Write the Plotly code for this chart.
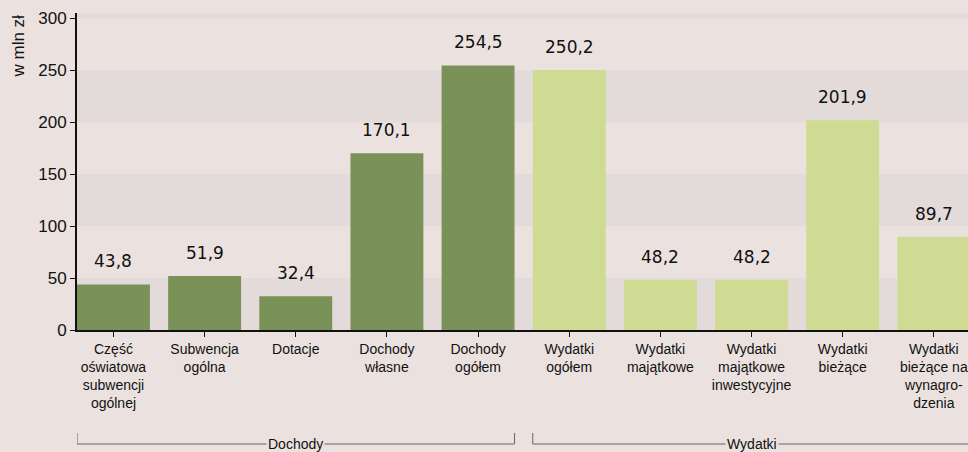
import plotly.graph_objects as go

categories = [
    "Część<br>oświatowa<br>subwencji<br>ogólnej",
    "Subwencja<br>ogólna",
    "Dotacje",
    "Dochody<br>własne",
    "Dochody<br>ogółem",
    "Wydatki<br>ogółem",
    "Wydatki<br>majątkowe",
    "Wydatki<br>majątkowe<br>inwestycyjne",
    "Wydatki<br>bieżące",
    "Wydatki<br>bieżące na<br>wynagro-<br>dzenia",
]
values = [43.8, 51.9, 32.4, 170.1, 254.5, 250.2, 48.2, 48.2, 201.9, 89.7]
groups = ["Dochody"] * 5 + ["Wydatki"] * 5
value_labels = ["43,8", "51,9", "32,4", "170,1", "254,5", "250,2", "48,2", "48,2", "201,9", "89,7"]
y_ticks = [0, 50, 100, 150, 200, 250, 300]

DARK = "#7A9257"
LIGHT = "#CFDB93"
BG = "#EBE2E0"
BAND = "#E3DADA"

xs = list(range(len(categories)))
colors = [DARK if g == "Dochody" else LIGHT for g in groups]

fig = go.Figure()
fig.add_trace(go.Bar(x=xs, y=values, marker=dict(color=colors, line=dict(width=0)),
                     width=0.8, hoverinfo="skip"))

# value labels
for x, v, t in zip(xs, values, value_labels):
    fig.add_annotation(x=x, y=v, text=t, showarrow=False, yanchor="bottom",
                       yshift=11, font=dict(family="DejaVu Sans", size=17, color="#111"))

# horizontal bands
for lo in [0, 100, 200, 300]:
    fig.add_shape(type="rect", xref="paper", yref="y", x0=0, x1=1, y0=lo, y1=lo + 50,
                  fillcolor=BAND, line=dict(width=0), layer="below")

# group brackets
plot_h = 452 - 13 - 122
def py(pix):
    return -(pix - 330) / plot_h

for name in ["Dochody", "Wydatki"]:
    idx = [i for i, g in enumerate(groups) if g == name]
    x0 = idx[0] - 0.4
    x1 = idx[-1] + 0.4
    fig.add_shape(type="path", xref="x", yref="paper",
                  path=f"M {x0} {py(433)} L {x0} {py(444)} L {x1} {py(444)} L {x1} {py(433)}",
                  line=dict(color="#666", width=1))
    fig.add_annotation(x=(x0 + x1) / 2, xref="x", y=py(444), yref="paper", text=name,
                       showarrow=False, yanchor="middle", bgcolor=BG, borderpad=1,
                       font=dict(family="Liberation Sans", size=14, color="#111"))

fig.add_annotation(x=-(77 - 18) / (968 - 77), xref="paper", y=1.0, yref="paper",
                   text="w mln zł", textangle=-90, showarrow=False, xanchor="center",
                   yanchor="top", font=dict(family="Liberation Sans", size=17, color="#111"))

fig.update_layout(
    width=968, height=452,
    margin=dict(l=77, r=0, t=13, b=122),
    paper_bgcolor=BG, plot_bgcolor=BG,
    showlegend=False, bargap=0.2,
    font=dict(family="Liberation Sans", color="#111"),
)

fig.update_xaxes(range=[-0.4, 9.375], tickvals=xs, ticktext=categories,
                 showline=True, linecolor="#111", linewidth=2, ticks="outside",
                 ticklen=5, tickcolor="#111", showgrid=False, zeroline=False,
                 tickfont=dict(family="Liberation Sans", size=14, color="#111"),
                 fixedrange=True)
fig.update_yaxes(range=[0, 305], tickvals=y_ticks, showline=True, linecolor="#111",
                 linewidth=2, ticks="outside", ticklen=5, tickcolor="#111",
                 showgrid=False, zeroline=False,
                 tickfont=dict(family="Liberation Sans", size=17, color="#111"))

fig.write_html("out.html")
